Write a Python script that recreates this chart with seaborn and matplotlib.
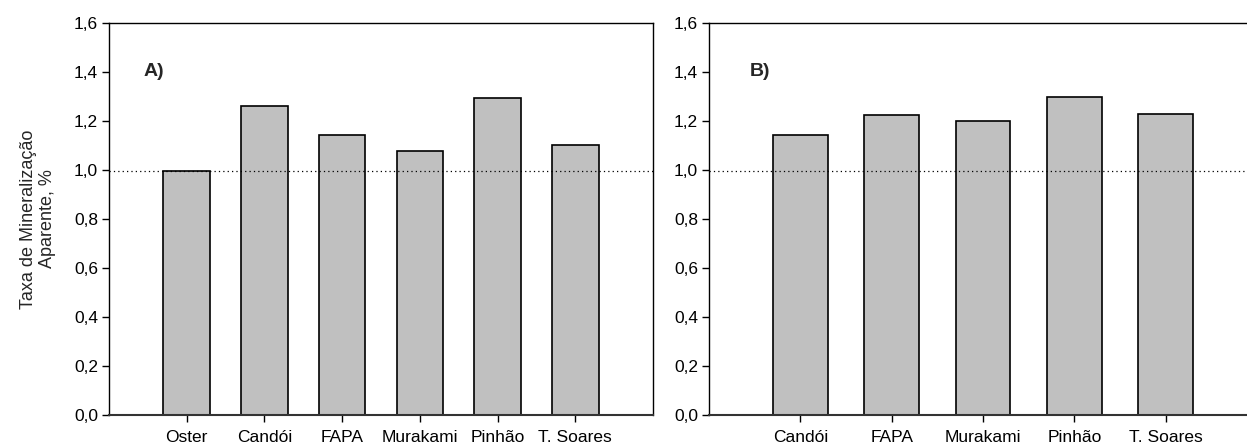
import matplotlib
matplotlib.use("Agg")
import matplotlib.pyplot as plt
import seaborn as sns
import pandas as pd

# data
sites_a = ["Oster", "Candói", "FAPA", "Murakami", "Pinhão", "T. Soares"]
rate_a = [0.995, 1.262, 1.142, 1.078, 1.294, 1.102]
sites_b = ["Candói", "FAPA", "Murakami", "Pinhão", "T. Soares"]
rate_b = [1.144, 1.224, 1.200, 1.296, 1.230]
ref_level = 0.995
yticks = [0.0, 0.2, 0.4, 0.6, 0.8, 1.0, 1.2, 1.4, 1.6]
ylabel = "Taxa de Mineralização\nAparente, %"

sns.set_style("white")
plt.rcParams['font.family'] = ['Liberation Sans Narrow', 'Liberation Sans', 'DejaVu Sans']

fig = plt.figure(figsize=(12.47, 4.48), dpi=100)
ax_a = fig.add_axes([0.0874, 0.0737, 0.4363, 0.875])
ax_b = fig.add_axes([0.5686, 0.0737, 0.4395, 0.875])


def draw_panel(ax, sites, rates, tag):
    df = pd.DataFrame({"site": sites, "rate": rates})
    sns.barplot(data=df, x="site", y="rate", ax=ax, color="#c0c0c0",
                saturation=1, width=0.6, edgecolor="black", linewidth=1.2)
    # dotted reference line drawn over the bars
    ax.axhline(ref_level, color="black", linestyle=(0, (1, 2.5)), linewidth=0.9, zorder=5)
    ax.set_xlim(-1, len(sites))
    ax.set_ylim(0, 1.6)
    ax.set_yticks(yticks)
    ax.set_yticklabels([f"{t:.1f}".replace(".", ",") for t in yticks])
    ax.set_xlabel("")
    ax.set_ylabel("")
    ax.tick_params(axis="both", direction="out", length=5, width=1, colors="black",
                   labelsize=12.5, bottom=True, left=True)
    ax.tick_params(axis="x", pad=6)
    ax.tick_params(axis="y", pad=3)
    for s in ax.spines.values():
        s.set_color("black")
        s.set_linewidth(1)
    ax.spines["bottom"].set_color("#333333")
    ax.spines["bottom"].set_linewidth(1.5)
    ax.text(-0.55, 1.4, tag, fontsize=14, fontweight="bold", va="center", ha="left")


draw_panel(ax_a, sites_a, rate_a, "A)")
draw_panel(ax_b, sites_b, rate_b, "B)")
ax_a.set_ylabel(ylabel, fontsize=13, labelpad=13, linespacing=1.15)

fig.savefig("out.png", dpi=100)
